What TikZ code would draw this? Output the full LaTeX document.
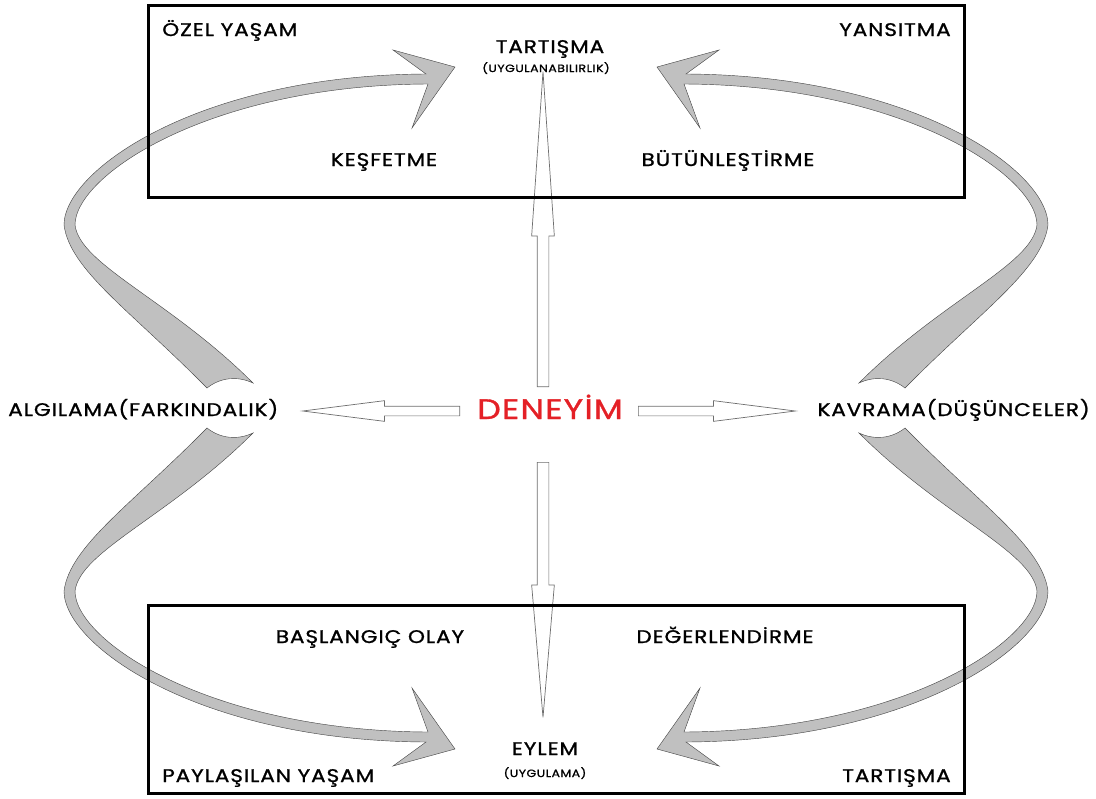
\documentclass[tikz,border=0pt]{standalone}
\usepackage{fontspec}
\setmainfont{Poppins}[FakeStretch=1.18, LetterSpace=5, FakeBold=1.2]
\usetikzlibrary{arrows.meta, positioning, shapes.arrows}
\definecolor{bandgray}{RGB}{192,192,192}
\definecolor{bandedge}{RGB}{70,70,70}
\definecolor{deneyimred}{RGB}{228,32,38}
\definecolor{arrowedge}{RGB}{110,110,110}

% one curved grey band (top-left one), mirrored for the other three
\newcommand{\cycleband}{%
  \filldraw[band]
    (-349,-20) .. controls (-426,-98) and (-486,-138) .. (-492,-183)
    .. controls (-492,-238) and (-356,-333) .. (-130,-334)
    -- (-163,-358) -- (-101,-341) -- (-144,-280) -- (-128,-324)
    .. controls (-346,-323) and (-481,-233) .. (-481,-183)
    .. controls (-476,-143) and (-386,-108) .. (-303,-25)
    .. controls (-318,-32) and (-335,-31) .. (-349,-20) -- cycle;}

\begin{document}
\begin{tikzpicture}[x=0.25mm, y=-0.25mm,
  framebox/.style={draw=black, line width=0.75mm},
  band/.style={fill=bandgray, draw=bandedge, line width=0.3pt},
  fatarrow/.style={single arrow, draw=arrowedge, fill=white, line width=0.5pt,
    inner xsep=0pt, inner ysep=1.375mm, minimum width=5.5mm,
    single arrow head extend=1.375mm},
  stage/.style={font=\fontsize{13}{15}\selectfont, inner sep=0pt},
  note/.style={font=\fontsize{7.5}{8}\selectfont, inner sep=0pt}
]
\useasboundingbox (0,0) rectangle (1096,799);

% curved bands
\begin{scope}[shift={(556,408)}]
  \cycleband
  \begin{scope}[xscale=-1]\cycleband\end{scope}
  \begin{scope}[yscale=-1]\cycleband\end{scope}
  \begin{scope}[scale=-1]\cycleband\end{scope}
\end{scope}

% centre
\node[stage, text=deneyimred, font=\fontsize{20}{22}\selectfont, anchor=base] (deneyim) at (550,419) {DENEYİM};
\node[stage, anchor=base west] (algilama) at (8,416) {ALGILAMA(FARKINDALIK)};
\node[stage, anchor=base east] (kavrama) at (1090,416) {KAVRAMA(DÜŞÜNCELER)};

% white block arrows out of the centre
\node[fatarrow, rotate=90, anchor=tail, minimum height=78.75mm,
  single arrow tip angle=7.9] (toUp) at (543,387) {};
\node[fatarrow, rotate=-90, anchor=tail, minimum height=63.75mm,
  single arrow tip angle=9.8] (toDown) at (543,462) {};
\node[fatarrow, rotate=180, anchor=tail, minimum height=39.25mm, minimum width=5mm,
  inner ysep=1.125mm, single arrow tip angle=14.4] (toLeft) at (460,411) {};
\node[fatarrow, anchor=tail, minimum height=39.25mm, minimum width=5mm,
  inner ysep=1.125mm, single arrow tip angle=14.4] (toRight) at (638,411) {};

% top box
\draw[framebox] (148,5) rectangle (964,197);
\node[stage, anchor=base west] (ozel) at (162,36) {ÖZEL YAŞAM};
\node[stage, anchor=base east] (yansitma) at (951,36) {YANSITMA};
\node[stage, anchor=base] (tartUp) at (550,53) {TARTIŞMA};
\node[note, anchor=base] (uygUp) at (546,72) {(UYGULANABILIRLIK)};
\node[stage, anchor=base] (kesfet) at (384,166) {KEŞFETME};
\node[stage, anchor=base] (butun) at (728,166) {BÜTÜNLEŞTİRME};

% bottom box
\draw[framebox] (148,605) rectangle (964,793);
\node[stage, anchor=base] (baslangic) at (370,643) {BAŞLANGIÇ OLAY};
\node[stage, anchor=base] (degerlen) at (725,643) {DEĞERLENDİRME};
\node[stage, anchor=base] (eylem) at (545,755) {EYLEM};
\node[note, anchor=base] (uygDown) at (545,777) {(UYGULAMA)};
\node[stage, anchor=base west] (paylas) at (162,782) {PAYLAŞILAN YAŞAM};
\node[stage, anchor=base east] (tartDown) at (951,782) {TARTIŞMA};
\end{tikzpicture}
\end{document}
